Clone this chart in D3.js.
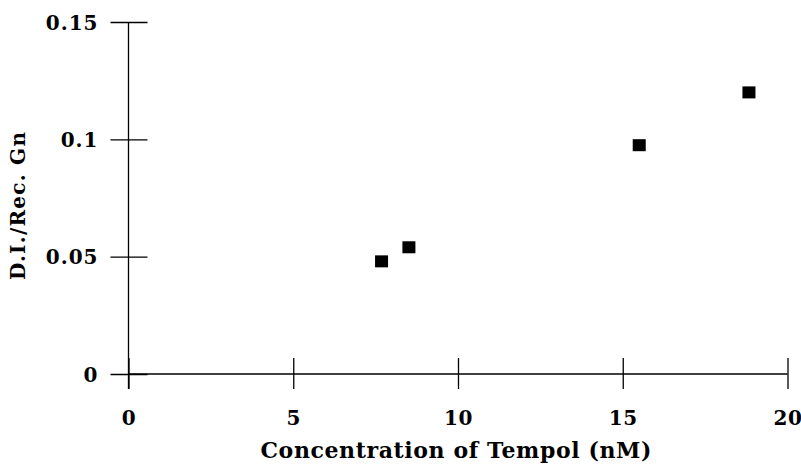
<html>
<head>
<script src="https://cdnjs.cloudflare.com/ajax/libs/d3/7.9.0/d3.min.js"></script>
<style>
  body { margin: 0; background: #fff; }
  text { font-family: "DejaVu Serif", serif; fill: #000; }
</style>
</head>
<body onload="main()">
</body>
<script>
  const tempol = [7.68, 8.51, 15.5, 18.83]
  const ratio = [0.048, 0.054, 0.0975, 0.12]
  const xTicks = [0, 5, 10, 15, 20]
  const yTicks = [0, 0.05, 0.1, 0.15]
  const xTitle = 'Concentration of Tempol (nM)'
  const yTitle = 'D.I./Rec. Gn'

  function main() {
    const width = 801
    const height = 466
    const svg = d3.select('body')
      .append('svg')
      .attr('width', width)
      .attr('height', height)

    const x = d3.scaleLinear([0, 20], [128.5, 787.5])
    const y = d3.scaleLinear([0, 0.15], [374, 22])

    // axes: ticks stick out on both sides
    svg.append('g')
      .attr('transform', `translate(0, ${y(0)})`)
      .call(d3.axisBottom(x).tickValues(xTicks).tickSize(15).tickFormat(d3.format('d')))
      .call(g => g.select('.domain').remove())
      .call(g => g.selectAll('.tick line').attr('y1', -16).attr('stroke-width', 1.3))
      .call(g => g.selectAll('.tick text').attr('y', 51).attr('dy', 0)
        .style('font-size', '20px').style('font-weight', 'bold').style('letter-spacing', '0.5px'))
    svg.append('line')
      .attr('x1', x(0)).attr('x2', x(20))
      .attr('y1', y(0)).attr('y2', y(0))
      .attr('stroke', 'black').attr('stroke-width', 1.3)

    svg.append('g')
      .attr('transform', `translate(${x(0)}, 0)`)
      .call(d3.axisLeft(y).tickValues(yTicks).tickSize(18).tickFormat(d => d === 0 ? '0' : String(d)))
      .call(g => g.select('.domain').remove())
      .call(g => g.selectAll('.tick line').attr('x1', -18).attr('x2', 19).attr('stroke-width', 1.3))
      .call(g => g.selectAll('.tick text').attr('x', -30).attr('dy', '0.36em')
        .style('font-size', '20px').style('font-weight', 'bold').style('letter-spacing', '1px'))
    svg.append('line')
      .attr('x1', x(0)).attr('x2', x(0))
      .attr('y1', y(0.15)).attr('y2', y(0) + 15)
      .attr('stroke', 'black').attr('stroke-width', 1.3)

    svg.selectAll('.point')
      .data(tempol.map((v, i) => [v, ratio[i]]))
      .enter()
      .append('rect')
      .classed('point', true)
      .attr('x', d => x(d[0]) - 6.5)
      .attr('y', d => y(d[1]) - 6)
      .attr('width', 13)
      .attr('height', 12)
      .attr('fill', 'black')

    svg.append('text')
      .attr('x', 456)
      .attr('y', 458)
      .attr('text-anchor', 'middle')
      .attr('textLength', 391)
      .attr('lengthAdjust', 'spacing')
      .style('font-size', '22px')
      .style('font-weight', 'bold')
      .text(xTitle)

    svg.append('text')
      .attr('transform', 'translate(25, 206) rotate(-90)')
      .attr('text-anchor', 'middle')
      .attr('textLength', 148)
      .attr('lengthAdjust', 'spacing')
      .style('font-size', '20px')
      .style('font-weight', 'bold')
      .text(yTitle)
  }
</script>
</html>
